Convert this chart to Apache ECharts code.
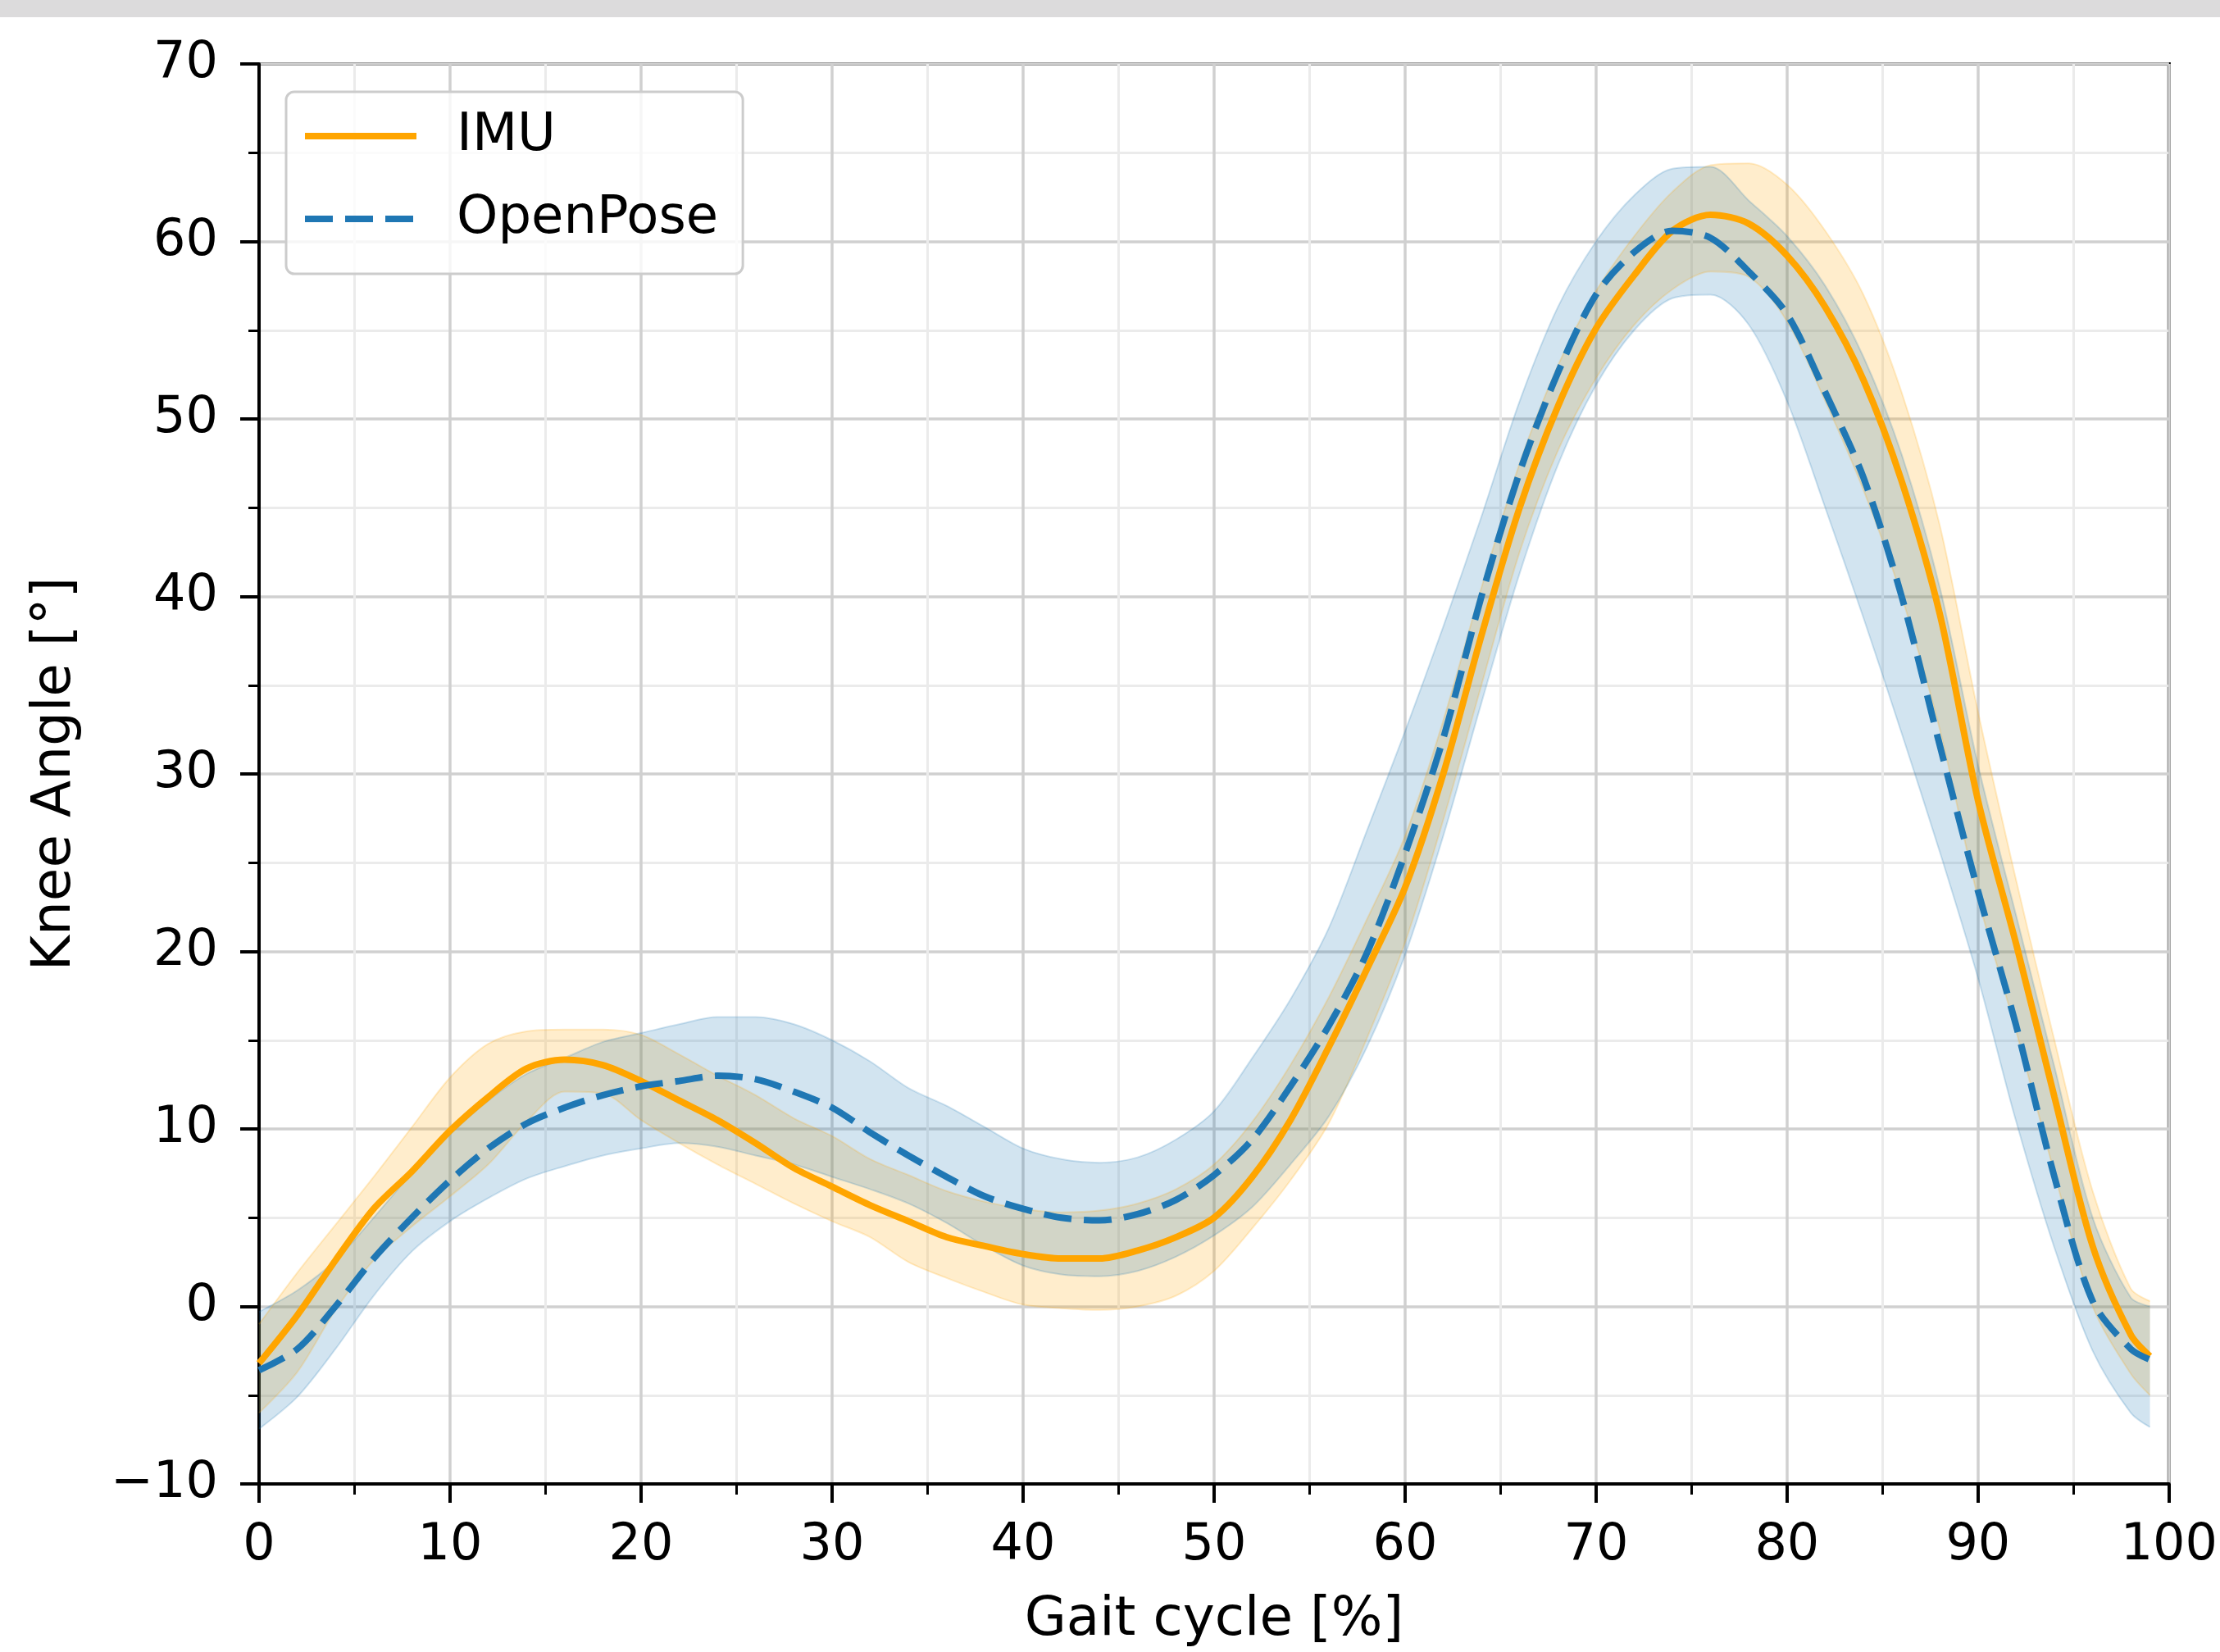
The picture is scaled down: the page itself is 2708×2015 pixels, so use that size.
<!DOCTYPE html>
<html>
<head>
<meta charset="utf-8">
<script src="https://cdn.jsdelivr.net/npm/echarts@6/dist/echarts.min.js"></script>
<style>html,body{margin:0;padding:0;background:#fff}#c{width:2708px;height:2015px}</style>
</head>
<body>
<div id="c"></div>
<script>
// Gait cycle sample positions [%]
const gaitPct = [0,2,4,6,8,10,12,14,16,18,20,22,24,26,28,30,32,34,36,38,40,42,44,46,48,50,52,54,56,58,60,62,64,66,68,70,72,74,76,78,80,82,84,86,88,90,92,94,96,98,99];

// IMU knee angle (mean, upper and lower band edges) [deg]
const imuMean  = [-3.2,-0.5,2.6,5.5,7.6,9.9,11.8,13.4,13.9,13.6,12.7,11.6,10.5,9.2,7.8,6.75,5.7,4.8,3.9,3.4,2.95,2.7,2.7,3.15,3.9,5.0,7.3,10.5,14.6,19.0,23.6,30.0,37.8,45.0,50.7,55.1,58.1,60.6,61.5,61.0,59.2,56.3,52.2,46.5,39.0,28.5,20.4,11.8,3.4,-1.6,-2.8];
const imuUpper = [-1.0,1.9,4.6,7.3,10.1,12.9,14.8,15.5,15.6,15.6,15.3,14.2,13.0,11.9,10.6,9.6,8.3,7.4,6.5,5.9,5.5,5.3,5.4,5.8,6.6,8.0,10.4,13.6,17.4,21.8,26.5,33.0,40.5,47.5,53.0,57.2,60.3,62.8,64.3,64.4,63.2,60.6,57.0,51.5,44.0,33.5,24.0,15.0,6.5,1.0,0.3];
const imuLower = [-6.0,-3.7,-0.2,2.6,4.5,6.2,8.0,10.4,12.1,12.0,10.5,9.2,8.0,6.9,5.8,4.8,3.9,2.5,1.6,0.8,0.1,-0.1,-0.2,0.0,0.6,2.0,4.4,7.1,10.3,15.1,20.5,27.4,35.0,42.5,48.2,52.3,55.3,57.3,58.3,58.0,55.5,51.0,46.0,40.0,32.5,23.0,15.5,7.5,0.0,-3.8,-5.0];

// OpenPose knee angle (mean, upper and lower band edges) [deg]
const opMean  = [-3.6,-2.4,0.0,2.7,5.0,7.1,8.9,10.3,11.2,11.9,12.4,12.7,13.0,12.8,12.1,11.2,9.8,8.5,7.3,6.2,5.5,5.0,4.85,5.2,6.0,7.4,9.4,12.4,15.8,19.9,25.5,32.0,40.0,47.0,52.6,57.0,59.4,60.6,60.2,58.3,55.9,51.5,46.7,40.0,31.6,23.4,15.8,7.3,0.3,-2.4,-3.0];
const opUpper = [-0.3,0.9,2.6,5.0,7.5,9.7,11.6,13.1,14.0,14.9,15.4,15.9,16.3,16.3,15.9,15.0,13.8,12.3,11.3,10.1,8.9,8.3,8.1,8.4,9.4,11.0,14.0,17.3,21.3,26.8,32.4,38.3,44.5,51.0,56.3,60.0,62.6,64.1,64.2,62.3,60.3,57.5,53.5,48.0,40.5,30.5,22.0,13.5,5.0,0.5,0.0];
const opLower = [-6.9,-5.1,-2.4,0.6,3.1,4.8,6.1,7.2,7.9,8.5,8.9,9.2,9.0,8.5,8.0,7.3,6.6,5.8,4.7,3.4,2.3,1.8,1.7,2.0,2.8,4.0,5.6,8.0,10.7,14.6,19.8,26.5,34.0,41.3,47.4,51.9,55.0,56.8,57.0,55.3,51.0,45.0,38.8,32.3,25.6,18.5,10.4,3.3,-2.5,-6.0,-6.8];

// Axis ranges / ticks
const xRange = [0, 100], xStep = 10;
const yRange = [-10, 70], yStep = 10;

const FONT = 'DejaVu Sans';
const pts = (arr) => gaitPct.map((x, i) => [x, arr[i]]);
// band rows are [value, x] so that the value (y) dimension is the stacked one
const lowRows = (lo) => gaitPct.map((x, i) => [lo[i], x]);
const diffRows = (up, lo) => gaitPct.map((x, i) => [+(up[i] - lo[i]).toFixed(3), x]);

const ORANGE = '#FFA500', BLUE = '#1f77b4';
const orangeFill = 'rgba(255,165,0,0.2)', blueFill = 'rgba(31,119,180,0.2)';
const SM = 0.3;

function bandSeries(id, lo, up, fill) {
  const common = { type: 'line', stack: id, stackStrategy: 'all', smooth: SM, symbol: 'none', showSymbol: false,
    silent: true, encode: { x: 1, y: 0 }, dimensions: ['v', 'x'], z: 1 };
  return [
    Object.assign({ name: id + 'Lo', data: lowRows(lo), lineStyle: { color: fill, width: 2 } }, common),
    Object.assign({ name: id + 'Hi', data: diffRows(up, lo), lineStyle: { color: fill, width: 2 },
      areaStyle: { color: fill, opacity: 1 } }, common)
  ];
}

const axisCommon = {
  axisLine: { show: true, onZero: false, lineStyle: { color: '#000', width: 4 } },
  axisTick: { show: true, length: 23, lineStyle: { color: '#000', width: 4 } },
  minorTick: { show: true, splitNumber: 2, length: 13, lineStyle: { color: '#000', width: 3 } },
  splitLine: { show: true, lineStyle: { color: '#d0d0d0', width: 3.5 } },
  minorSplitLine: { show: true, lineStyle: { color: '#ebebeb', width: 3 } },
  nameTextStyle: { fontFamily: FONT, fontSize: 66, color: '#000' }
};
const fmt = (v) => (v < 0 ? '\u2212' + Math.abs(v) : String(v));

const chart = echarts.init(document.getElementById('c'), null, { renderer: 'canvas' });
chart.setOption({
  animation: false,
  backgroundColor: '#ffffff',
  graphic: [{ type: 'rect', shape: { x: 0, y: 0, width: 2708, height: 21 }, style: { fill: '#dcdbdc' }, z: 0 }],
  grid: { left: 316, top: 78, width: 2332, height: 1737, show: true, borderColor: '#000', borderWidth: 4, backgroundColor: 'transparent' },
  xAxis: Object.assign({}, axisCommon, {
    type: 'value', min: xRange[0], max: xRange[1], interval: xStep,
    name: 'Gait cycle [%]', nameLocation: 'middle', nameGap: 134,
    axisLabel: { fontFamily: FONT, fontSize: 62, color: '#000', margin: 45, formatter: fmt }
  }),
  yAxis: Object.assign({}, axisCommon, {
    type: 'value', min: yRange[0], max: yRange[1], interval: yStep,
    name: 'Knee Angle [°]', nameLocation: 'middle', nameGap: 215,
    axisLabel: { fontFamily: FONT, fontSize: 62, color: '#000', margin: 50, formatter: fmt }
  }),
  legend: {
    data: ['IMU', 'OpenPose'],
    orient: 'vertical', left: 349, top: 112,
    padding: [22, 30, 35, 19],
    itemWidth: 136, itemHeight: 1, itemGap: 37,
    lineStyle: { width: 8 },
    backgroundColor: 'rgba(255,255,255,0.8)', borderColor: '#cccccc', borderWidth: 3, borderRadius: 10,
    textStyle: { fontFamily: FONT, fontSize: 64, color: '#000', lineHeight: 62, padding: [0, 0, 0, 44] },
    selectedMode: false
  },
  series: [
    ...bandSeries('imuBand', imuLower, imuUpper, orangeFill),
    ...bandSeries('opBand', opLower, opUpper, blueFill),
    { name: 'IMU', type: 'line', data: pts(imuMean), smooth: SM, symbol: 'none', showSymbol: false,
      lineStyle: { color: ORANGE, width: 8 }, itemStyle: { color: ORANGE }, z: 3 },
    { name: 'OpenPose', type: 'line', data: pts(opMean), smooth: SM, symbol: 'none', showSymbol: false,
      lineStyle: { color: BLUE, width: 8, type: [34, 15], cap: 'butt' }, itemStyle: { color: BLUE }, z: 4 }
  ]
});
</script>
</body>
</html>
